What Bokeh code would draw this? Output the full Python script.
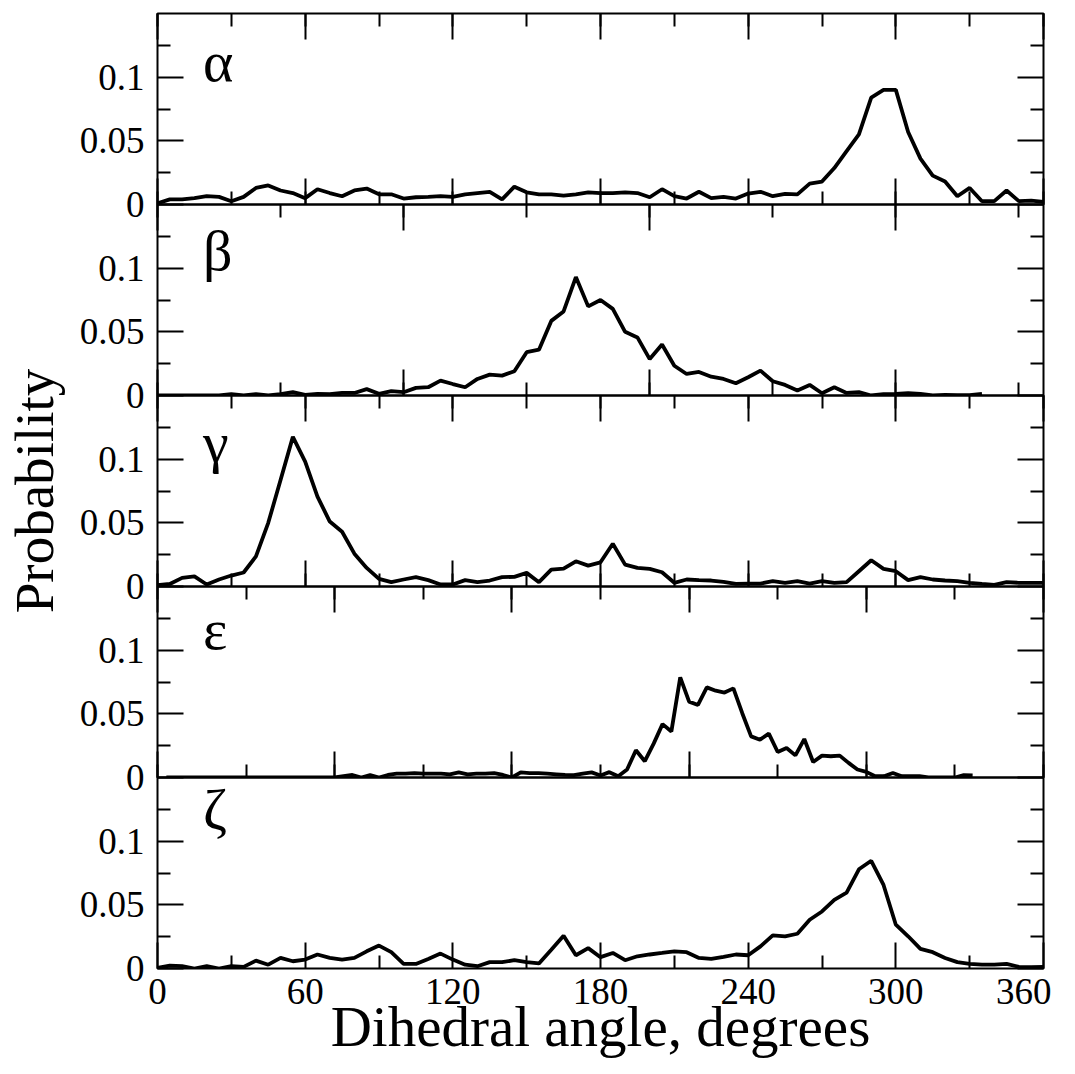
from bokeh.plotting import figure
from bokeh.layouts import column
from bokeh.models import Range1d, FixedTicker, SingleIntervalTicker, LinearAxis, Label
from bokeh.embed import file_html
from bokeh.resources import INLINE

FONT = "Liberation Serif"

# ---------------- data (probability per 5-degree bin) ----------------
angles = list(range(0, 361, 5))          # 0 .. 360
beta_angles = list(range(0, 336, 5))     # 0 .. 335
eps_angles = list(range(5, 461, 5))      # plotted on a 0..500 axis

alpha = [0.001, 0.004, 0.004, 0.005, 0.0065, 0.006, 0.0026, 0.006, 0.013, 0.015,
         0.011, 0.009, 0.005, 0.012, 0.009, 0.0065, 0.011, 0.0125, 0.008, 0.008,
         0.0047, 0.0057, 0.006, 0.0065, 0.006, 0.008, 0.009, 0.010, 0.004, 0.014,
         0.0096, 0.008, 0.008, 0.007, 0.008, 0.0096, 0.009, 0.009, 0.0096, 0.009,
         0.0057, 0.012, 0.0065, 0.0047, 0.010, 0.005, 0.006, 0.0047, 0.0086, 0.010,
         0.0065, 0.0083, 0.008, 0.0164, 0.018, 0.0286, 0.042, 0.055, 0.084, 0.090,
         0.090, 0.057, 0.036, 0.0227, 0.018, 0.0065, 0.013, 0.0026, 0.0026, 0.011,
         0.0026, 0.003, 0.002]

beta = [0, 0, 0, 0, 0, 0, 0.001, 0, 0.001, 0,
        0.001, 0.0026, 0.0005, 0.0013, 0.001, 0.002, 0.002, 0.005, 0.0013, 0.0034,
        0.0026, 0.006, 0.0065, 0.0117, 0.009, 0.0065, 0.013, 0.0164, 0.0156, 0.019,
        0.034, 0.036, 0.0586, 0.066, 0.093, 0.070, 0.075, 0.068, 0.050, 0.0456,
        0.0286, 0.040, 0.0234, 0.0169, 0.0185, 0.0148, 0.013, 0.0096, 0.0143, 0.0195,
        0.0112, 0.0083, 0.004, 0.0083, 0.0018, 0.0065, 0.002, 0.0026, 0.0, 0.001,
        0.0013, 0.0018, 0.0013, 0.0, 0.0005, 0.0003, 0.0003, 0.0013]

gamma = [0.001, 0.002, 0.0068, 0.008, 0.0016, 0.0055, 0.0086, 0.011, 0.0237, 0.050,
         0.0836, 0.1175, 0.098, 0.0706, 0.051, 0.043, 0.0258, 0.0146, 0.006, 0.0034,
         0.0055, 0.0073, 0.005, 0.0016, 0.0016, 0.005, 0.0034, 0.0047, 0.0073, 0.0076,
         0.0107, 0.0034, 0.0133, 0.014, 0.0198, 0.0164, 0.019, 0.0336, 0.0172, 0.0146,
         0.0138, 0.0112, 0.0029, 0.0055, 0.005, 0.0047, 0.0036, 0.002, 0.0023, 0.0023,
         0.0042, 0.0029, 0.0042, 0.0023, 0.0042, 0.0029, 0.0034, 0.012, 0.0206, 0.0138,
         0.012, 0.005, 0.0073, 0.0055, 0.0047, 0.0042, 0.0029, 0.002, 0.0013, 0.0034,
         0.0029, 0.0029, 0.0029]

epsilon = [0, 0, 0, 0, 0, 0, 0, 0, 0, 0,
           0, 0, 0, 0, 0, 0, 0, 0, 0, 0,
           0.001, 0.002, 0, 0.002, 0, 0.002, 0.003, 0.003, 0.0035, 0.003,
           0.003, 0.003, 0.0025, 0.004, 0.0025, 0.003, 0.003, 0.0035, 0.002, 0,
           0.004, 0.0035, 0.0035, 0.003, 0.0025, 0.002, 0.0018, 0.003, 0.004, 0.0016,
           0.0042, 0.001, 0.0063, 0.0214, 0.0128, 0.0266, 0.0419, 0.0362, 0.0786, 0.0596,
           0.057, 0.0708, 0.0682, 0.0667, 0.070, 0.0505, 0.0323, 0.0297, 0.0344, 0.020,
           0.0232, 0.0174, 0.0302, 0.0122, 0.0172, 0.0167, 0.0172, 0.0115, 0.0063, 0.0044,
           0.001, 0.001, 0.0036, 0.001, 0.001, 0.001, 0, 0, 0, 0,
           0.0018, 0.0016]

zeta = [0.0005, 0.0023, 0.0018, 0, 0.0018, 0, 0.0018, 0.0013, 0.0062, 0.003,
        0.0083, 0.0057, 0.007, 0.011, 0.0083, 0.007, 0.0083, 0.0135, 0.018, 0.0128,
        0.0036, 0.0036, 0.0075, 0.0117, 0.007, 0.003, 0.0018, 0.005, 0.005, 0.0065,
        0.005, 0.004, 0.0148, 0.0258, 0.0104, 0.016, 0.0089, 0.0122, 0.0065, 0.0096,
        0.011, 0.0122, 0.0135, 0.0128, 0.0083, 0.0075, 0.0091, 0.011, 0.0104, 0.0174,
        0.026, 0.0253, 0.0273, 0.0383, 0.0448, 0.0539, 0.0596, 0.0779, 0.0846, 0.0656,
        0.0344, 0.0253, 0.0154, 0.0128, 0.0083, 0.005, 0.0036, 0.003, 0.003, 0.0036,
        0.0013, 0.001, 0.0013]

names = ["α", "β", "γ", "ε", "ζ"]
xs = [angles, beta_angles, angles, eps_angles, angles]
ys = [alpha, beta, gamma, epsilon, zeta]
x_max = [360, 360, 360, 500, 360]
x_major = [60, 100, 60, 100, 60]
name_y = [0.112, 0.114, 0.113, 0.116, 0.125]

y_major = [0, 0.05, 0.1]
y_minor = [0.025, 0.075, 0.125]
y_labels = {0: "0", 0.05: "0.05", 0.1: "0.1"}
x_tick_labels = [0, 60, 120, 180, 240, 300, 360]
x_minor_ticks = [30, 90, 150, 210, 270, 330]

FRAME_W, FRAME_H = 886, 191
LEFT, RIGHT = 149, 16
PAD = 40          # border above/below inner panels, overlapped by negative margins


def style_ticks(ax, show_labels):
    ax.axis_line_color = None
    ax.major_tick_in = 26
    ax.major_tick_out = 0
    ax.minor_tick_in = 13
    ax.minor_tick_out = 0
    ax.major_tick_line_color = "black"
    ax.minor_tick_line_color = "black"
    ax.major_tick_line_width = 2
    ax.minor_tick_line_width = 2
    ax.major_label_text_font = FONT
    ax.major_label_text_color = "black"
    ax.major_label_text_font_size = "37px"
    if not show_labels:
        ax.major_label_text_color = None
        ax.major_label_text_font_size = "1px"
        ax.major_label_standoff = 0


plots = []
for i in range(5):
    last = i == 4
    p = figure(frame_width=FRAME_W, frame_height=FRAME_H,
               x_range=Range1d(0, x_max[i]), y_range=Range1d(0, 0.15),
               x_axis_location=None, y_axis_location=None,
               output_backend="svg", toolbar_location=None,
               min_border_left=LEFT, min_border_right=RIGHT,
               min_border_top=13 if i == 0 else PAD,
               min_border_bottom=0 if last else PAD,
               margin=(0, 0, 0, 0) if i == 0 else (-2 * PAD, 0, 0, 0))
    p.grid.visible = False
    p.outline_line_color = "black"
    p.outline_line_width = 2
    p.background_fill_color = None
    p.border_fill_color = None

    # y axes (left with labels, right ticks only)
    left = LinearAxis(ticker=FixedTicker(ticks=y_major, minor_ticks=y_minor),
                      major_label_overrides=y_labels)
    style_ticks(left, True)
    left.major_label_standoff = 13
    if i == 2:
        left.axis_label = "Probability"
        left.axis_label_text_font = FONT
        left.axis_label_text_font_size = "55px"
        left.axis_label_text_font_style = "normal"
        left.axis_label_text_color = "black"
        left.axis_label_standoff = 12
    p.add_layout(left, "left")
    right = LinearAxis(ticker=FixedTicker(ticks=y_major, minor_ticks=y_minor))
    style_ticks(right, False)
    p.add_layout(right, "right")

    # x axes
    if not last:
        xt = SingleIntervalTicker(interval=x_major[i], num_minor_ticks=2)
        top = LinearAxis(ticker=xt)
        style_ticks(top, False)
        p.add_layout(top, "above")
        bottom = LinearAxis(ticker=xt)
        style_ticks(bottom, False)
        p.add_layout(bottom, "below")
    else:
        bottom = LinearAxis(ticker=FixedTicker(ticks=x_tick_labels,
                                               minor_ticks=x_minor_ticks))
        style_ticks(bottom, True)
        bottom.major_label_standoff = 10
        bottom.axis_label = "Dihedral angle, degrees"
        bottom.axis_label_text_font = FONT
        bottom.axis_label_text_font_size = "57px"
        bottom.axis_label_text_font_style = "normal"
        bottom.axis_label_text_color = "black"
        bottom.axis_label_standoff = -12
        p.add_layout(bottom, "below")

    p.line(xs[i], ys[i], line_color="black", line_width=3.8)
    p.add_layout(Label(x=18.5 * x_max[i] / 360, y=name_y[i], text=names[i],
                       text_font=FONT, text_font_size="58px",
                       text_baseline="alphabetic", text_color="black"))
    plots.append(p)

layout = column(*plots, spacing=0)
open("out.html", "w").write(file_html(layout, INLINE))
